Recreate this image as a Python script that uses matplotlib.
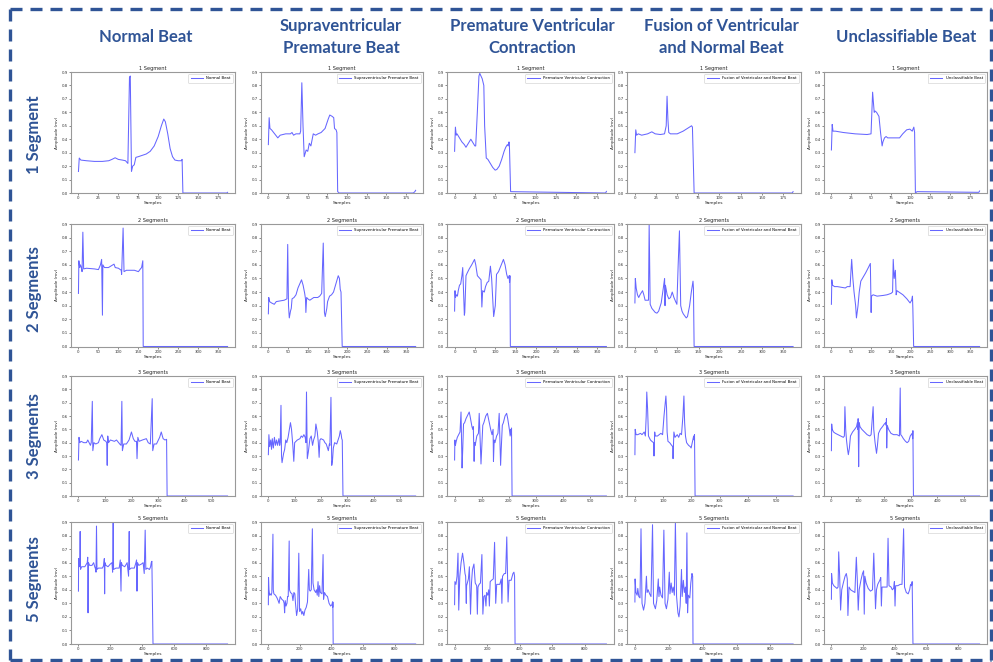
import numpy as np
import matplotlib
matplotlib.use('Agg')
import matplotlib.pyplot as plt
from matplotlib.lines import Line2D
from matplotlib.ticker import MultipleLocator, FormatStrFormatter

# ── data (sample index, amplitude) ──────────────────────────────────────────
# row 1 : 1 segment
NB1_X = [0, 1, 3, 10, 20, 30, 38, 42, 46, 50, 55, 59, 62, 64, 65, 66.5, 68, 70, 72, 75, 80, 85, 90, 95, 100, 104, 107, 109, 112, 115, 118, 121, 125, 129, 130, 131, 186, 187]
NB1_Y = [0.16, 0.26, 0.245, 0.24, 0.235, 0.235, 0.24, 0.25, 0.262, 0.25, 0.245, 0.24, 0.22, 0.86, 0.87, 0.16, 0.2, 0.21, 0.265, 0.27, 0.28, 0.29, 0.31, 0.35, 0.42, 0.5, 0.55, 0.53, 0.44, 0.33, 0.27, 0.245, 0.24, 0.24, 0.25, 0.0, 0.0, 0.005]
SV1_X = [0, 1, 2, 4, 8, 12, 15, 22, 28, 30, 32, 35, 40, 41, 42.5, 44, 45.5, 48, 50, 52, 54, 57, 60, 63, 67, 72, 76, 78, 81, 83, 84, 86, 87, 88, 90, 184, 186, 187]
SV1_Y = [0.36, 0.56, 0.48, 0.47, 0.44, 0.41, 0.43, 0.44, 0.44, 0.45, 0.43, 0.44, 0.44, 0.46, 0.82, 0.5, 0.27, 0.32, 0.31, 0.37, 0.35, 0.44, 0.43, 0.44, 0.45, 0.48, 0.55, 0.58, 0.57, 0.56, 0.48, 0.47, 0.45, 0.01, 0.0, 0.0, 0.01, 0.02]
PV1_X = [0, 1, 2, 3, 5, 9, 12, 14, 16, 19, 20, 22, 25, 26, 28, 30, 31, 34, 36, 37, 39, 41, 44, 47, 50, 52, 55, 58, 61, 63, 65, 66, 67, 67.5, 69, 186, 187]
PV1_Y = [0.31, 0.49, 0.43, 0.44, 0.42, 0.38, 0.36, 0.34, 0.36, 0.39, 0.40, 0.38, 0.35, 0.35, 0.6, 0.87, 0.89, 0.85, 0.8, 0.5, 0.26, 0.25, 0.22, 0.19, 0.17, 0.175, 0.2, 0.25, 0.31, 0.34, 0.36, 0.35, 0.38, 0.36, 0.01, 0.0, 0.012]
FU1_X = [0, 1, 2, 4, 8, 15, 20, 24, 30, 35, 37, 38, 39, 40, 42, 50, 57, 62, 67, 68, 70, 186, 187]
FU1_Y = [0.3, 0.47, 0.43, 0.44, 0.43, 0.44, 0.455, 0.44, 0.435, 0.44, 0.5, 0.72, 0.55, 0.45, 0.44, 0.44, 0.46, 0.48, 0.5, 0.49, 0.0, 0.0, 0.01]
UN1_X = [0, 1, 2, 5, 15, 30, 45, 50, 52, 54, 55, 57, 60, 62, 64, 65, 67, 69, 71, 80, 86, 90, 95, 99, 102, 104, 105, 106, 108, 186, 187]
UN1_Y = [0.32, 0.51, 0.46, 0.46, 0.45, 0.44, 0.435, 0.44, 0.75, 0.6, 0.61, 0.6, 0.57, 0.45, 0.35, 0.38, 0.41, 0.42, 0.41, 0.41, 0.41, 0.44, 0.47, 0.475, 0.46, 0.49, 0.45, 0.0, 0.01, 0.005, 0.015]

# row 2 : 2 segments
NB2_X = [0, 1, 3, 5, 8, 9, 11, 13, 20, 40, 50, 55, 58, 60, 61, 65, 75, 89, 92, 100, 107, 108, 111.7, 114, 120, 140, 150, 155, 158, 161, 162, 373]
NB2_Y = [0.39, 0.63, 0.58, 0.6, 0.57, 0.55, 0.84, 0.57, 0.575, 0.57, 0.565, 0.6, 0.64, 0.23, 0.6, 0.58, 0.58, 0.605, 0.58, 0.575, 0.56, 0.53, 0.87, 0.55, 0.56, 0.56, 0.55, 0.57, 0.58, 0.63, 0.0, 0.0]
SV2_X = [0, 1, 3, 8, 15, 20, 30, 40, 47, 49, 51, 53, 56, 58, 60, 65, 70, 75, 84, 88, 92, 94, 95, 97, 100, 105, 115, 125, 130, 135, 139, 142, 144, 148, 150, 155, 160, 165, 172, 177, 180, 182, 184, 187, 373]
SV2_Y = [0.24, 0.36, 0.33, 0.32, 0.31, 0.33, 0.335, 0.34, 0.35, 0.75, 0.3, 0.21, 0.26, 0.28, 0.35, 0.36, 0.38, 0.43, 0.49, 0.45, 0.39, 0.35, 0.25, 0.36, 0.35, 0.34, 0.36, 0.36, 0.37, 0.39, 0.76, 0.25, 0.22, 0.28, 0.33, 0.37, 0.38, 0.4, 0.47, 0.52, 0.5, 0.42, 0.4, 0.0, 0.0]
PV2_X = [0, 1, 2, 5, 7, 9, 12, 15, 18, 20, 24, 25, 28, 31, 36, 42, 49, 52, 56, 62, 65, 67, 69, 73, 76, 80, 84, 88, 91, 96, 100, 103, 108, 112, 120, 124, 128, 131, 134, 135, 136, 137, 373]
PV2_Y = [0.26, 0.41, 0.36, 0.38, 0.37, 0.41, 0.45, 0.46, 0.52, 0.58, 0.23, 0.25, 0.52, 0.54, 0.57, 0.6, 0.64, 0.6, 0.52, 0.5, 0.49, 0.29, 0.41, 0.4, 0.44, 0.47, 0.48, 0.59, 0.5, 0.22, 0.3, 0.53, 0.55, 0.58, 0.64, 0.6, 0.53, 0.5, 0.52, 0.47, 0.52, 0.0, 0.0]
FU2_X = [0, 1, 3, 6, 9, 12, 18, 21, 24, 32, 33.6, 36, 40, 48, 52, 56, 62, 67, 70, 71, 72, 76, 80, 84, 88, 92, 96, 99, 102, 105, 108, 111, 114, 121, 124, 129, 133, 137, 138, 139.6, 373]
FU2_Y = [0.32, 0.5, 0.43, 0.38, 0.36, 0.38, 0.41, 0.38, 0.34, 0.34, 0.9, 0.31, 0.28, 0.25, 0.245, 0.26, 0.32, 0.43, 0.5, 0.3, 0.45, 0.38, 0.35, 0.36, 0.4, 0.36, 0.33, 0.31, 0.6, 0.85, 0.3, 0.26, 0.24, 0.21, 0.22, 0.3, 0.4, 0.48, 0.43, 0.0, 0.0]
UN2_X = [0, 1, 3, 8, 15, 25, 35, 40, 47, 51, 54, 57, 61, 63, 67, 70, 74, 78, 86, 93, 98, 100, 101, 105, 115, 130, 140, 150, 154, 155.6, 158, 161, 163, 165, 170, 180, 190, 198, 202, 204, 205, 207, 373]
UN2_Y = [0.31, 0.49, 0.45, 0.44, 0.44, 0.435, 0.43, 0.44, 0.44, 0.64, 0.5, 0.4, 0.3, 0.21, 0.3, 0.4, 0.48, 0.5, 0.54, 0.58, 0.61, 0.25, 0.37, 0.38, 0.37, 0.375, 0.38, 0.39, 0.4, 0.64, 0.5, 0.56, 0.38, 0.41, 0.4, 0.38, 0.35, 0.32, 0.34, 0.37, 0.28, 0.0, 0.0]

# row 3 : 3 segments
NB3_X = [0, 2, 5, 10, 20, 30, 35, 40, 45, 48, 52, 54, 58, 65, 75, 80, 88, 95, 103, 106, 108, 110, 113, 120, 135, 143, 155, 160, 163, 165, 170, 180, 190, 199, 206, 212, 218, 220, 223, 228, 240, 255, 262, 270, 277, 279, 284, 293, 305, 311, 318, 325, 331, 333, 560]
NB3_Y = [0.27, 0.44, 0.4, 0.41, 0.4, 0.4, 0.42, 0.4, 0.38, 0.4, 0.71, 0.34, 0.4, 0.39, 0.4, 0.43, 0.46, 0.42, 0.41, 0.4, 0.23, 0.45, 0.4, 0.42, 0.41, 0.42, 0.39, 0.38, 0.71, 0.34, 0.39, 0.39, 0.42, 0.48, 0.43, 0.41, 0.41, 0.28, 0.44, 0.41, 0.42, 0.43, 0.4, 0.39, 0.73, 0.34, 0.39, 0.39, 0.44, 0.48, 0.43, 0.42, 0.425, 0.0, 0.0]
SV3_X = [0, 2, 5, 9, 12, 15, 19, 23, 27, 31, 35, 40, 43, 45, 48, 50, 52, 58, 62, 66, 70, 75, 84, 88, 93, 96.7, 100, 110, 120, 125, 130, 135, 140, 143, 145, 148, 152, 158, 163, 168, 172, 177, 180.7, 186, 190, 193, 196, 200, 210, 215, 220, 225, 228, 232, 234, 238, 241, 244, 247, 252, 260, 270, 273.5, 277, 279, 281, 283.7, 560]
SV3_Y = [0.31, 0.46, 0.37, 0.42, 0.35, 0.43, 0.36, 0.44, 0.38, 0.42, 0.38, 0.43, 0.38, 0.4, 0.68, 0.3, 0.25, 0.32, 0.35, 0.42, 0.4, 0.44, 0.55, 0.5, 0.38, 0.26, 0.4, 0.42, 0.43, 0.45, 0.44, 0.46, 0.44, 0.4, 0.78, 0.28, 0.33, 0.43, 0.45, 0.38, 0.42, 0.45, 0.54, 0.48, 0.4, 0.29, 0.42, 0.43, 0.42, 0.4, 0.39, 0.36, 0.34, 0.39, 0.38, 0.74, 0.23, 0.27, 0.36, 0.4, 0.39, 0.45, 0.49, 0.46, 0.43, 0.42, 0.0, 0.0]
PV3_X = [0, 1, 3, 6, 10, 15, 20, 23.7, 27.6, 30, 33, 37, 42, 54, 57, 64, 67, 69, 72, 74, 76, 82, 88, 90.8, 97.4, 101, 104, 108, 115, 121, 125, 133, 138, 142, 143.4, 146, 149, 155, 160, 164.5, 169.7, 172, 176, 180, 186, 192, 196, 202, 205, 207, 209, 210, 212, 560]
PV3_Y = [0.27, 0.42, 0.38, 0.41, 0.44, 0.46, 0.48, 0.63, 0.21, 0.35, 0.54, 0.55, 0.58, 0.63, 0.6, 0.52, 0.5, 0.52, 0.26, 0.4, 0.38, 0.45, 0.47, 0.62, 0.24, 0.4, 0.53, 0.55, 0.6, 0.62, 0.58, 0.5, 0.46, 0.5, 0.26, 0.42, 0.4, 0.45, 0.47, 0.62, 0.23, 0.35, 0.53, 0.55, 0.6, 0.62, 0.58, 0.5, 0.45, 0.5, 0.46, 0.51, 0.0, 0.0]
FU3_X = [0, 1, 4, 10, 20, 25, 33, 37, 40, 42, 45, 48, 55, 60, 66, 67.6, 70, 72, 80, 92, 98, 103, 109.7, 112, 114, 117, 123, 130, 134, 135, 138, 142, 150, 155, 160, 165, 170, 173.5, 176, 179, 183, 190, 196, 199, 203, 208, 210, 211, 213, 560]
FU3_Y = [0.31, 0.5, 0.46, 0.46, 0.47, 0.46, 0.48, 0.45, 0.6, 0.78, 0.65, 0.45, 0.42, 0.41, 0.4, 0.3, 0.48, 0.45, 0.45, 0.47, 0.46, 0.6, 0.75, 0.66, 0.48, 0.41, 0.4, 0.38, 0.37, 0.28, 0.48, 0.44, 0.46, 0.44, 0.47, 0.46, 0.6, 0.75, 0.55, 0.45, 0.4, 0.38, 0.37, 0.36, 0.4, 0.45, 0.42, 0.46, 0.0, 0.0]
UN3_X = [0, 1, 3, 8, 15, 25, 35, 45, 49, 51, 54, 57, 61, 64, 68, 72, 80, 88, 95, 98, 100, 101, 103, 105, 108, 115, 125, 135, 145, 150, 157.7, 160, 165, 170.5, 174, 178, 185, 193, 200, 205, 207, 208, 209, 211, 216, 225, 235, 248, 257, 260, 262, 266, 272, 280, 286, 292, 298, 305, 307, 308, 310, 560]
UN3_Y = [0.34, 0.54, 0.5, 0.48, 0.47, 0.46, 0.45, 0.44, 0.45, 0.67, 0.5, 0.42, 0.35, 0.31, 0.36, 0.45, 0.48, 0.5, 0.52, 0.55, 0.5, 0.58, 0.22, 0.55, 0.52, 0.5, 0.48, 0.46, 0.45, 0.46, 0.67, 0.5, 0.4, 0.32, 0.38, 0.47, 0.5, 0.52, 0.54, 0.55, 0.53, 0.58, 0.36, 0.53, 0.5, 0.47, 0.46, 0.46, 0.45, 0.81, 0.46, 0.45, 0.43, 0.41, 0.4, 0.41, 0.45, 0.47, 0.43, 0.49, 0.0, 0.0]

# row 4 : 5 segments
NB4_X = [0, 1, 4, 8, 10.7, 13, 20, 40, 55, 58, 60, 63, 70, 85, 95, 102, 108, 110, 113, 116, 125, 150, 158, 162, 164, 166, 172, 185, 200, 210, 214, 217.5, 220, 235, 255, 262, 266.5, 269, 275, 290, 305, 314, 318, 320, 330, 350, 360, 364, 366.7, 370, 378, 395, 405, 412, 418, 422, 430, 445, 452, 456, 460, 467, 934]
NB4_Y = [0.39, 0.63, 0.57, 0.58, 0.83, 0.55, 0.57, 0.57, 0.6, 0.64, 0.23, 0.6, 0.58, 0.58, 0.6, 0.57, 0.55, 0.53, 0.87, 0.55, 0.56, 0.56, 0.58, 0.63, 0.37, 0.6, 0.58, 0.57, 0.59, 0.6, 0.53, 0.9, 0.55, 0.56, 0.56, 0.62, 0.39, 0.6, 0.58, 0.57, 0.6, 0.5, 0.83, 0.55, 0.56, 0.56, 0.6, 0.62, 0.39, 0.6, 0.58, 0.59, 0.6, 0.52, 0.84, 0.55, 0.56, 0.55, 0.57, 0.6, 0.61, 0.0, 0.0]
SV4_X = [0, 1, 4, 8, 12, 18, 22, 29, 31, 35, 45, 55, 62, 68, 75, 85, 95, 100, 103, 107, 112, 118, 122, 126, 132, 134, 140, 150, 156, 162, 168, 172, 179, 186, 193, 198, 205, 212, 218, 225, 232, 240, 248, 256, 260, 265, 272, 279, 283, 290, 300, 305, 310, 315, 320, 325, 330, 340, 347, 350, 356, 365, 375, 385, 395, 403, 407, 408, 409, 411, 934]
SV4_Y = [0.29, 0.49, 0.4, 0.36, 0.37, 0.36, 0.38, 0.81, 0.4, 0.37, 0.36, 0.34, 0.32, 0.3, 0.35, 0.33, 0.32, 0.3, 0.23, 0.32, 0.28, 0.3, 0.35, 0.35, 0.76, 0.4, 0.38, 0.37, 0.32, 0.38, 0.37, 0.3, 0.21, 0.26, 0.67, 0.24, 0.26, 0.22, 0.24, 0.21, 0.25, 0.27, 0.31, 0.55, 0.4, 0.39, 0.4, 0.85, 0.45, 0.4, 0.38, 0.4, 0.36, 0.46, 0.35, 0.43, 0.38, 0.37, 0.66, 0.33, 0.38, 0.36, 0.35, 0.3, 0.28, 0.29, 0.31, 0.27, 0.31, 0.0, 0.0]
PV4_X = [0, 2, 8.5, 15, 21, 25.5, 32, 40, 49, 57, 64, 68, 72, 74, 85, 91, 98, 104, 110, 119, 127, 136, 140, 144, 151, 159, 168, 174, 180, 187, 193, 197, 204, 210, 214, 219, 227, 238, 246, 253, 259, 270, 278, 287, 291, 295, 306, 314, 321, 329, 335, 348, 359, 365, 369, 372, 934]
PV4_Y = [0.29, 0.46, 0.44, 0.5, 0.67, 0.25, 0.5, 0.6, 0.67, 0.6, 0.52, 0.5, 0.3, 0.43, 0.48, 0.57, 0.22, 0.45, 0.55, 0.59, 0.45, 0.43, 0.22, 0.42, 0.44, 0.45, 0.66, 0.22, 0.35, 0.36, 0.28, 0.38, 0.36, 0.4, 0.28, 0.46, 0.47, 0.48, 0.75, 0.3, 0.44, 0.44, 0.44, 0.48, 0.3, 0.5, 0.52, 0.52, 0.79, 0.31, 0.47, 0.47, 0.52, 0.53, 0.5, 0.0, 0.0]
FU4_X = [0, 1, 6, 13, 17, 23, 30, 36, 42, 51, 59, 68, 72, 78, 87, 95, 104, 110, 121, 129, 138, 142, 146, 154, 163, 171, 178, 186, 195, 203, 207, 214, 220, 226, 233, 239, 246, 254, 260, 267, 275, 279, 286, 292, 298, 303, 307, 311, 315, 324, 330, 337, 341, 343, 934]
FU4_Y = [0.31, 0.48, 0.38, 0.36, 0.41, 0.35, 0.34, 0.85, 0.3, 0.25, 0.3, 0.5, 0.38, 0.4, 0.37, 0.35, 0.88, 0.3, 0.26, 0.32, 0.48, 0.35, 0.42, 0.36, 0.34, 0.84, 0.3, 0.26, 0.33, 0.53, 0.37, 0.45, 0.38, 0.42, 0.36, 0.9, 0.35, 0.23, 0.2, 0.28, 0.55, 0.35, 0.47, 0.38, 0.42, 0.3, 0.82, 0.23, 0.36, 0.34, 0.45, 0.52, 0.5, 0.0, 0.0]
UN4_X = [0, 1, 6, 15, 25, 35, 42, 46, 52, 58, 65, 75, 86, 94, 100, 104, 111, 121, 134, 148, 157, 163, 169, 175, 186, 196, 203, 207, 211, 219, 232, 246, 259, 267, 273, 278, 284, 292, 305, 311, 315, 319, 330, 342, 351, 357, 363, 376, 384, 392, 397, 401, 405, 418, 434, 445, 455, 461, 472, 484, 493, 499, 505, 509, 514, 934]
UN4_Y = [0.33, 0.52, 0.45, 0.43, 0.42, 0.41, 0.42, 0.68, 0.5, 0.25, 0.4, 0.45, 0.5, 0.52, 0.48, 0.21, 0.42, 0.4, 0.39, 0.38, 0.64, 0.48, 0.25, 0.4, 0.47, 0.52, 0.54, 0.22, 0.5, 0.45, 0.41, 0.39, 0.4, 0.67, 0.45, 0.26, 0.4, 0.44, 0.47, 0.49, 0.28, 0.42, 0.42, 0.42, 0.42, 0.78, 0.43, 0.42, 0.4, 0.41, 0.46, 0.28, 0.43, 0.43, 0.44, 0.44, 0.85, 0.42, 0.38, 0.37, 0.4, 0.44, 0.43, 0.46, 0.0, 0.0]

COL_HEADERS = ["Normal Beat", "Supraventricular\nPremature Beat",
               "Premature Ventricular\nContraction",
               "Fusion of Ventricular\nand Normal Beat", "Unclassifiable Beat"]
LEGEND_NAMES = ["Normal Beat", "Supraventricular Premature Beat",
                "Permature Ventricular Contraction",
                "Fusion of Ventricular and Normal Beat", "Unclassifiable Beat"]
ROW_HEADERS = ["1 Segment", "2 Segments", "3 Segments", "5 Segments"]
X_STEPS = [25, 50, 100, 200]

SIGNALS = [
    [(NB1_X, NB1_Y), (SV1_X, SV1_Y), (PV1_X, PV1_Y), (FU1_X, FU1_Y), (UN1_X, UN1_Y)],
    [(NB2_X, NB2_Y), (SV2_X, SV2_Y), (PV2_X, PV2_Y), (FU2_X, FU2_Y), (UN2_X, UN2_Y)],
    [(NB3_X, NB3_Y), (SV3_X, SV3_Y), (PV3_X, PV3_Y), (FU3_X, FU3_Y), (UN3_X, UN3_Y)],
    [(NB4_X, NB4_Y), (SV4_X, SV4_Y), (PV4_X, PV4_Y), (FU4_X, FU4_Y), (UN4_X, UN4_Y)],
]

W, H = 993, 662
NAVY = "#2F5496"
fig = plt.figure(figsize=(W / 100, H / 100), dpi=100)
fig.patch.set_facecolor("white")

# pixel layout of the grid
COL_L = [71, 261, 447, 627, 824]
COL_R = [235, 423, 614, 801, 987]
ROW_T = [72, 224, 376, 522]
ROW_B = [193, 346.5, 496, 644]

for r in range(4):
    for c in range(5):
        l, rr, t, b = COL_L[c], COL_R[c], ROW_T[r], ROW_B[r]
        ax = fig.add_axes([l / W, 1 - b / H, (rr - l) / W, (b - t) / H])
        xs, ys = SIGNALS[r][c]
        ax.plot(xs, ys, color="blue", alpha=0.6, lw=0.75, label=LEGEND_NAMES[c])
        ax.set_ylim(0, 0.9)
        ax.set_yticks(np.round(np.arange(0, 0.91, 0.1), 1))
        ax.yaxis.set_major_formatter(FormatStrFormatter("%.1f"))
        ax.xaxis.set_major_locator(MultipleLocator(X_STEPS[r]))
        ax.tick_params(labelsize=2.8, length=1.5, width=0.4, pad=1, colors="#333333")
        ax.set_title(ROW_HEADERS[r], fontsize=3.6, pad=1.5, color="#222222")
        ax.set_xlabel("Samples", fontsize=3.2, labelpad=0.5, color="#222222")
        ax.set_ylabel("Amplitude (mv)", fontsize=3.0, labelpad=1.5, color="#222222")
        for s in ax.spines.values():
            s.set_edgecolor("#999999")
            s.set_linewidth(0.8)
        leg = ax.legend(loc="upper right", fontsize=2.8, handlelength=3.2,
                        borderpad=0.6, framealpha=1)
        leg.get_frame().set_edgecolor("#cccccc")
        leg.get_frame().set_linewidth(0.4)

# column headers
COL_CX = [146, 341, 532, 721, 906]
for c, txt in enumerate(COL_HEADERS):
    fig.text(COL_CX[c] / W, 1 - 37 / H, txt, ha="center", va="center",
             fontsize=12, fontweight="bold", family="Lato", color=NAVY,
             linespacing=1.4)

# row headers
ROW_CY = [135, 289, 436, 579]
for r, txt in enumerate(ROW_HEADERS):
    fig.text(34 / W, 1 - ROW_CY[r] / H, txt, ha="center", va="center",
             rotation=90, fontsize=12, fontweight="bold", family="Lato",
             color=NAVY)

# dashed border
dash = dict(color=NAVY, lw=2.4, linestyle=(0, (3.6, 2.4)))
x0, x1, y0, y1 = 10 / W, 991 / W, 1 - 9 / H, 1 - 660 / H
for xs, ys in [([x0, x1], [y0, y0]), ([x0, x1], [y1, y1]),
               ([x0, x0], [y0, y1]), ([x1, x1], [y0, y1])]:
    fig.add_artist(Line2D(xs, ys, transform=fig.transFigure, **dash))

fig.savefig("out.png", dpi=100, facecolor="white")
